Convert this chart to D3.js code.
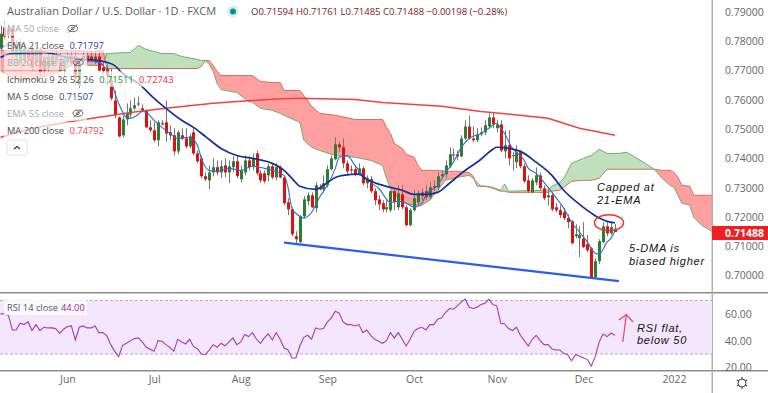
<!DOCTYPE html>
<html>
<head>
<meta charset="utf-8">
<script src="https://cdnjs.cloudflare.com/ajax/libs/d3/7.8.5/d3.min.js"></script>
<style>
  html, body { margin: 0; padding: 0; background: #fff; }
  svg { display: block; font-family: "Open Sans", sans-serif; }
</style>
</head>
<body>
<svg id="chart" width="768" height="393"></svg>
<script>
// daily candles, bar number = trading day counted from early May 2021
const opens = [.7775,.7847,.7820,.7844,.7748,.7724,.7741,.7769,.7775,.7728,.7769,.7741,.7707,.7751,.7728,.7734,.7700,.7728,.7751,.7751,.7649,.7751,.7751,.7748,.7728,.7748,.7711,.7707,.7666,.7598,.7540,.7479,.7533,.7550,.7571,.7584,.7571,.7564,.7506,.7496,.7462,.7520,.7523,.7489,.7479,.7424,.7479,.7468,.7441,.7489,.7417,.7400,.7339,.7325,.7352,.7370,.7352,.7376,.7352,.7370,.7390,.7329,.7352,.7393,.7373,.7417,.7349,.7349,.7342,.7373,.7335,.7370,.7335,.7250,.7226,.7134,.7114,.7202,.7254,.7274,.7230,.7301,.7294,.7308,.7363,.7397,.7448,.7438,.7383,.7363,.7363,.7349,.7366,.7315,.7329,.7288,.7260,.7247,.7226,.7223,.7288,.7233,.7277,.7233,.7172,.7223,.7250,.7271,.7288,.7267,.7305,.7301,.7339,.7346,.7373,.7410,.7414,.7407,.7468,.7509,.7468,.7462,.7482,.7489,.7509,.7540,.7503,.7516,.7424,.7445,.7408,.7387,.7421,.7373,.7325,.7284,.7318,.7342,.7298,.7267,.7274,.7233,.7223,.7216,.7196,.7185,.7134,.7127,.7127,.7107,.7093,.6994,.7049,.7114,.7168,.7144,.71594];
const closes = [.7826,.7816,.7844,.7762,.7786,.7792,.7775,.7741,.7711,.7769,.7694,.7700,.7748,.7721,.7751,.7700,.7734,.7745,.7724,.7673,.7724,.7734,.7731,.7734,.7748,.7700,.7697,.7683,.7605,.7547,.7475,.7533,.7554,.7571,.7581,.7588,.7564,.7506,.7496,.7462,.7523,.7516,.7485,.7479,.7424,.7489,.7468,.7441,.7475,.7417,.7390,.7339,.7329,.7352,.7370,.7352,.7373,.7352,.7373,.7390,.7339,.7359,.7393,.7370,.7400,.7349,.7325,.7322,.7373,.7335,.7370,.7335,.7247,.7226,.7141,.7124,.7202,.7260,.7274,.7233,.7308,.7294,.7315,.7363,.7400,.7448,.7438,.7383,.7356,.7359,.7346,.7366,.7315,.7332,.7288,.7257,.7243,.7226,.7233,.7288,.7250,.7281,.7233,.7172,.7223,.7264,.7281,.7284,.7267,.7301,.7301,.7339,.7346,.7376,.7414,.7414,.7407,.7468,.7509,.7468,.7462,.7482,.7489,.7513,.7540,.7516,.7516,.7427,.7445,.7400,.7411,.7421,.7373,.7322,.7288,.7325,.7342,.7298,.7264,.7274,.7226,.7223,.7206,.7196,.7182,.7110,.7141,.7138,.7097,.7086,.6994,.7049,.7117,.7168,.7144,.7165,.71488];
const highs = [.7854,.7871,.7857,.7850,.7803,.7809,.7789,.7782,.7786,.7782,.7779,.7751,.7762,.7769,.7769,.7762,.7751,.7769,.7769,.7769,.7734,.7769,.7769,.7762,.7769,.7769,.7728,.7721,.7707,.7632,.7543,.7547,.7588,.7598,.7608,.7612,.7584,.7567,.7530,.7523,.7530,.7530,.7598,.7513,.7503,.7496,.7503,.7503,.7485,.7503,.7427,.7410,.7352,.7376,.7400,.7393,.7393,.7400,.7393,.7407,.7410,.7376,.7410,.7407,.7417,.7427,.7359,.7359,.7383,.7383,.7383,.7376,.7339,.7264,.7233,.7151,.7206,.7271,.7284,.7284,.7318,.7312,.7342,.7376,.7410,.7472,.7458,.7468,.7393,.7376,.7376,.7383,.7373,.7342,.7339,.7298,.7274,.7257,.7257,.7291,.7298,.7308,.7308,.7240,.7230,.7291,.7291,.7298,.7308,.7318,.7325,.7352,.7359,.7393,.7438,.7434,.7427,.7479,.7530,.7547,.7509,.7503,.7506,.7530,.7554,.7554,.7530,.7530,.7496,.7496,.7421,.7445,.7427,.7383,.7342,.7332,.7369,.7352,.7308,.7298,.7284,.7247,.7240,.7230,.7209,.7189,.7175,.7168,.7182,.7138,.7097,.7059,.7124,.7182,.7182,.7182,.71761];
const lows = [.7769,.7803,.7809,.7741,.7734,.7707,.7728,.7728,.7700,.7714,.7680,.7687,.7694,.7707,.7717,.7694,.7683,.7714,.7717,.7649,.7639,.7728,.7724,.7728,.7721,.7694,.7687,.7649,.7598,.7537,.7472,.7472,.7513,.7537,.7564,.7578,.7560,.7503,.7489,.7455,.7441,.7513,.7458,.7462,.7410,.7414,.7462,.7434,.7434,.7410,.7383,.7332,.7322,.7294,.7339,.7342,.7332,.7335,.7315,.7352,.7332,.7318,.7342,.7359,.7359,.7342,.7318,.7315,.7322,.7329,.7325,.7332,.7240,.7206,.7134,.7110,.7110,.7196,.7240,.7230,.7216,.7291,.7284,.7301,.7359,.7393,.7421,.7366,.7342,.7349,.7339,.7342,.7308,.7298,.7281,.7240,.7223,.7216,.7216,.7216,.7223,.7223,.7226,.7168,.7168,.7219,.7240,.7257,.7257,.7260,.7288,.7291,.7332,.7332,.7366,.7393,.7393,.7404,.7462,.7465,.7455,.7455,.7475,.7479,.7503,.7503,.7489,.7421,.7400,.7376,.7359,.7366,.7366,.7315,.7281,.7281,.7308,.7291,.7257,.7240,.7219,.7216,.7196,.7189,.7161,.7107,.7127,.7063,.7093,.7080,.6994,.6991,.7039,.7110,.7134,.7138,.71485];

const ma200Bars = [0,8,20,33,42,54,61,70,76,90,97,112,122,130,139,147,156];
const ma200 = [.7472,.7503,.7530,.7557,.7571,.7588,.7595,.7603,.7605,.7601,.7591,.7578,.7560,.7550,.7537,.7503,.7479];
const ema21Bars = [0,3,11,17,22,25,27,29,31,35,39,42,46,49,52,56,60,64,69,72,74,76,80,82,85,87,91,93,96,99,102,105,108,111,114,117,122,125,126,129,132,136,140,143,147,150,152,154,156];
const ema21 = [.7745,.7758,.7762,.7745,.7738,.7734,.7728,.7717,.7690,.7656,.7605,.7571,.7530,.7506,.7475,.7434,.7410,.7400,.7383,.7359,.7332,.7305,.7294,.7308,.7335,.7342,.7346,.7329,.7312,.7301,.7291,.7277,.7277,.7284,.7315,.7349,.7397,.7431,.7438,.7434,.7424,.7387,.7342,.7291,.7243,.7213,.7196,.7185,.7180];
const ma5Bars = [0,2,4,6,9,12,15,18,22,25,27,28,29,30,32,33,35,36,37,39,41,43,45,48,50,51,53,55,58,61,64,67,69,72,73,74,76,77,79,81,83,85,86,88,90,92,94,96,99,101,103,105,107,108,111,113,115,117,119,122,124,126,127,128,130,131,133,134,136,138,140,143,145,147,149,151,152,154,155,156];
const ma5 = [.7775,.7789,.7775,.7762,.7751,.7741,.7738,.7741,.7734,.7728,.7700,.7673,.7625,.7588,.7540,.7537,.7550,.7560,.7557,.7530,.7506,.7485,.7468,.7472,.7444,.7400,.7359,.7356,.7366,.7359,.7373,.7366,.7359,.7342,.7301,.7230,.7202,.7196,.7216,.7267,.7308,.7366,.7404,.7410,.7376,.7342,.7318,.7298,.7250,.7254,.7247,.7233,.7247,.7274,.7308,.7352,.7387,.7438,.7468,.7485,.7503,.7520,.7503,.7485,.7434,.7421,.7393,.7366,.7349,.7318,.7284,.7230,.7182,.7148,.7114,.7076,.7073,.7114,.7127,.7151];

// ichimoku cloud, runs 26 bars past the last candle
const cloudBars = [0,2,5,10,15,19,23,26,27,33,35,37,41,44,46,50,51,52,53,54,55,56,60,63,64,66,69,71,72,76,77,79,81,85,90,94,97,98,99,100,102,103,105,106,107,109,111,113,116,119,120,121,122,123,125,127,128,129,139,140,142,143,145,148,150,152,154,157,159,162,166,168,170,171,172,173,175,176,178,180,181];
const spanA = [.7700,.7683,.7666,.7673,.7697,.7724,.7717,.7717,.7758,.7762,.7786,.7772,.7758,.7758,.7748,.7738,.7734,.7734,.7721,.7697,.7656,.7635,.7625,.7595,.7591,.7571,.7564,.7554,.7547,.7523,.7462,.7438,.7427,.7410,.7404,.7393,.7376,.7332,.7298,.7274,.7257,.7247,.7240,.7240,.7240,.7257,.7291,.7325,.7335,.7342,.7332,.7318,.7305,.7305,.7301,.7291,.7312,.7288,.7291,.7305,.7318,.7332,.7383,.7400,.7410,.7431,.7417,.7417,.7421,.7397,.7363,.7332,.7308,.7301,.7274,.7247,.7240,.7199,.7172,.7155,.7148];
const spanB = [.7769,.7769,.7769,.7769,.7769,.7769,.7765,.7769,.7707,.7707,.7707,.7707,.7707,.7707,.7707,.7707,.7714,.7734,.7734,.7717,.7697,.7683,.7683,.7683,.7683,.7663,.7659,.7659,.7632,.7632,.7615,.7578,.7554,.7547,.7533,.7533,.7533,.7506,.7485,.7451,.7434,.7414,.7404,.7376,.7359,.7359,.7359,.7356,.7356,.7352,.7339,.7305,.7305,.7305,.7298,.7288,.7288,.7284,.7284,.7288,.7291,.7301,.7322,.7325,.7325,.7332,.7363,.7363,.7363,.7363,.7363,.7359,.7359,.7352,.7335,.7308,.7305,.7274,.7274,.7274,.7274];

// rsi 14, one value per bar
const rsi = [60,60,59,48,48,53,52,54,47.5,52,47.5,50,49.5,49.5,49,45.5,48.5,50.5,51,40.5,50,51,49.5,49.5,51,46,46,43.5,37,32,28,36.5,38,40,41.5,42,39,35,33.5,32,40,39.5,37,35,32,41,39,37.5,41,35.5,34,30,29.5,33,37,35,38,36,39,42,37,39,44.5,43,46,41,38,42,45,40.5,46,41,34.5,33,27,27,36,42.5,44,41,49.5,48.5,49,54,57,62,60.5,54,52,52,51,52,46,48,44,41,39.5,38,40,46,42,46,41,36,41,47,49,50,48,52,52,56,57,61,64,63.5,66,69,71,65,64,65,67,68,71,67,66,53,52.5,49,47.5,50,44,40,36,41,44,40,37,37,34,33,33,30.5,29.5,25,29.5,28.5,27,26,21,28,39,45,43,45.5,44];

const priceTicks = [.79,.78,.77,.76,.75,.74,.73,.72,.71,.70];
const rsiTicks = [60,40,20];
const monthBars = [17,39,61,83,105,126,148,171];
const monthLabels = ["Jun","Jul","Aug","Sep","Oct","Nov","Dec","2022"];
const channelBars = [72,157];
const channelLine = [.7112,.6981];
const legendRows = [
  {name: "MA 50 close", eye: true},
  {name: "EMA 21 close", vals: [["0.71797", "#1c3fa0"]]},
  {name: "BB 20 close 2", eye: true},
  {name: "Ichimoku 9 26 52 26", vals: [["0.71511", "#2a8a2a"], ["0.72743", "#ef2b2b"]]},
  {name: "MA 5 close", vals: [["0.71507", "#1c3fa0"]]},
  {name: "EMA 55 close", eye: true},
  {name: "MA 200 close", vals: [["0.74792", "#f04040"]]}
];

const W = 768, axisX = 712, pricePaneBottom = 293, rsiPaneBottom = 371;
const svg = d3.select("#chart");

const x = d3.scaleLinear().domain([0, 171]).range([0.5, 674]);
const y = d3.scaleLinear().domain([.70, .79]).range([275.5, 12]);
const yRsi = d3.scaleLinear().domain([30, 70]).range([354, 300.5]);

svg.append("defs").append("clipPath").attr("id", "pane").
  append("rect").attr("width", axisX).attr("height", pricePaneBottom);

const main = svg.append("g").attr("clip-path", "url(#pane)");

// cloud: fill each side where its span is on top
const cloud = cloudBars.map((b, i) => ({b: b, a: spanA[i], s: spanB[i]}));
const area = (lo) => d3.area().x(d => x(d.b)).y0(d => y(lo(d))).y1(d => y(Math.max(d.a, d.s)));
main.append("path").attr("d", area(d => d.a)(cloud)).attr("fill", "#ff9f9f");
main.append("path").attr("d", area(d => d.s)(cloud)).attr("fill", "#bfdfbd");
const indexLine = (bars, vals) => d3.line().x((d, i) => x(bars[i])).y(d => y(d))(vals);
main.append("path").attr("d", indexLine(cloudBars, spanA)).attr("fill", "none").attr("stroke", "#6fae70").attr("stroke-width", 1);
main.append("path").attr("d", indexLine(cloudBars, spanB)).attr("fill", "none").attr("stroke", "#d0705f").attr("stroke-width", 1);

// candles
const candles = opens.map((o, i) => ({i: i, o: o, c: closes[i], h: highs[i], l: lows[i]}));
const candle = main.append("g").selectAll("g").data(candles).join("g");
candle.append("line").
  attr("x1", d => Math.round(x(d.i)) + 0.5).attr("x2", d => Math.round(x(d.i)) + 0.5).
  attr("y1", d => y(d.h)).attr("y2", d => y(d.l)).
  attr("stroke", "#777").attr("stroke-width", 1);
candle.append("rect").
  attr("x", d => Math.round(x(d.i)) - 1).attr("width", 3).
  attr("y", d => y(Math.max(d.o, d.c))).
  attr("height", d => Math.max(1, Math.abs(y(d.o) - y(d.c)))).
  attr("fill", d => d.c >= d.o ? "#2f7d32" : "#e01010");

// moving averages
main.append("path").attr("d", indexLine(ma200Bars, ma200)).attr("fill", "none").attr("stroke", "#f44040").attr("stroke-width", 1.5);
main.append("path").attr("d", d3.line().x((d, i) => x(ma5Bars[i])).y(d => y(d)).curve(d3.curveMonotoneX)(ma5)).attr("fill", "none").attr("stroke", "#2f6fc8").attr("stroke-width", 1.1);
main.append("path").attr("d", d3.line().x((d, i) => x(ema21Bars[i])).y(d => y(d)).curve(d3.curveMonotoneX)(ema21)).attr("fill", "none").attr("stroke", "#12309c").attr("stroke-width", 1.7);

// drawn channel line
main.append("line").
  attr("x1", x(channelBars[0])).attr("x2", x(channelBars[1])).
  attr("y1", y(channelLine[0])).attr("y2", y(channelLine[1])).
  attr("stroke", "#2b5cf0").attr("stroke-width", 2.2);

// circle round the last candles, hand annotation
main.append("ellipse").attr("cx", x(154.5)).attr("cy", y(.7180)).attr("rx", 14.5).attr("ry", 8).
  attr("fill", "none").attr("stroke", "#ef2f2f").attr("stroke-width", 1.5);

// panes frame
const frame = "#8c8c8c";
svg.append("rect").attr("y", pricePaneBottom - 1).attr("width", W).attr("height", 1.5).attr("fill", frame);
svg.append("rect").attr("y", rsiPaneBottom - 1).attr("width", W).attr("height", 1.5).attr("fill", frame);
svg.append("rect").attr("x", axisX - 0.5).attr("width", 1.5).attr("height", 393).attr("fill", "#b0b0b0");

// rsi pane
const rsiG = svg.append("g");
rsiG.append("rect").attr("x", 0).attr("width", axisX).attr("y", yRsi(70)).attr("height", yRsi(30) - yRsi(70)).attr("fill", "#f4e6fc");
[70, 30].forEach(v => {
  rsiG.append("line").attr("x1", 0).attr("x2", axisX).attr("y1", yRsi(v)).attr("y2", yRsi(v)).
    attr("stroke", "#b9a6c4").attr("stroke-width", 1).attr("stroke-dasharray", "3 2");
});
rsiG.append("path").
  attr("d", d3.line().x((d, i) => x(i)).y(d => yRsi(d))(rsi)).
  attr("fill", "none").attr("stroke", "#a33cb8").attr("stroke-width", 1.1);
const rsiLegend = rsiG.append("g");
rsiLegend.append("rect").attr("x", 4).attr("y", 300).attr("width", 83).attr("height", 15).attr("fill", "#fff").attr("opacity", .75);
rsiLegend.append("text").attr("x", 7).attr("y", 310.5).attr("font-size", 9.3).attr("fill", "#555").text("RSI 14 close");
rsiLegend.append("text").attr("x", 61).attr("y", 310.5).attr("font-size", 9.3).attr("fill", "#8e24aa").text("44.00");

// axes
const priceAxis = d3.axisRight(y).tickValues(priceTicks).tickSize(0).tickPadding(0).tickFormat(d3.format(".5f"));
const rsiAxis = d3.axisRight(yRsi).tickValues(rsiTicks).tickSize(0).tickPadding(0).tickFormat(d3.format(".2f"));
const timeAxis = d3.axisBottom(x).tickValues(monthBars).tickSize(0).tickPadding(0).tickFormat((d, i) => monthLabels[i]);

const styleAxis = (g) => {
  g.select(".domain").remove();
  g.selectAll("text").attr("fill", "#666").attr("font-size", 10.5).attr("font-family", '"Open Sans", sans-serif');
};
svg.append("g").attr("transform", "translate(725,0)").call(priceAxis).call(styleAxis);
svg.append("g").attr("transform", "translate(725,0)").call(rsiAxis).call(styleAxis);
svg.append("g").attr("transform", "translate(0,376)").call(timeAxis).call(styleAxis);

// price label on the axis
svg.append("rect").attr("x", axisX).attr("y", 226).attr("width", 56).attr("height", 14).attr("fill", "#ef1f1f");
svg.append("text").attr("x", 725).attr("y", 236.7).attr("font-size", 10.5).attr("font-weight", 700).attr("fill", "#fff").text("0.71488");

// settings gear
const gear = svg.append("g").attr("transform", "translate(742,383)");
gear.append("circle").attr("r", 4).attr("fill", "none").attr("stroke", "#444").attr("stroke-width", 1);
d3.range(0, 360, 60).forEach(a => {
  gear.append("line").attr("x1", 0).attr("x2", 0).attr("y1", -4).attr("y2", -6).
    attr("transform", "rotate(" + a + ")").attr("stroke", "#444").attr("stroke-width", 1.2);
});

// header
const head = svg.append("g");
head.append("text").attr("x", 7).attr("y", 15).attr("font-size", 11).attr("fill", "#5a5a5a").
  text("Australian Dollar / U.S. Dollar · 1D · FXCM");
head.append("circle").attr("cx", 233).attr("cy", 11.5).attr("r", 6).attr("fill", "#d5efec");
head.append("circle").attr("cx", 233).attr("cy", 11.5).attr("r", 3).attr("fill", "#0a9484");
head.append("text").attr("x", 251).attr("y", 15).attr("font-size", 9.5).attr("fill", "#7a2020").
  text("O0.71594 H0.71761 L0.71485 C0.71488 −0.00198 (−0.28%)");

// legend rows over the chart, each on a see-through white strip
const legend = svg.append("g");
legendRows.forEach((r, i) => {
  const ty = 32 + i * 16.95;
  const faded = !!r.eye;
  const row = legend.append("g");
  const back = row.append("rect").attr("x", 4).attr("y", ty - 11.5).attr("height", 15.5).attr("fill", "#fff").attr("opacity", .68);
  const name = row.append("text").attr("x", 7).attr("y", ty).attr("font-size", 9.3).
    attr("fill", faded ? "#a8a8a8" : "#4a4a4a").text(r.name);
  let px = 7 + name.node().getComputedTextLength();
  (r.vals || []).forEach(v => {
    const t = row.append("text").attr("x", px + 5.5).attr("y", ty).attr("font-size", 9.3).attr("fill", v[1]).text(v[0]);
    px += t.node().getComputedTextLength() + 5.5;
  });
  if (r.eye) {
    const eye = row.append("g").attr("transform", "translate(" + (px + 14) + "," + (ty - 3.5) + ")");
    eye.append("ellipse").attr("rx", 5).attr("ry", 3.2).attr("fill", "none").attr("stroke", "#555").attr("stroke-width", .9);
    eye.append("circle").attr("r", 1.4).attr("fill", "none").attr("stroke", "#555").attr("stroke-width", .8);
    eye.append("line").attr("x1", -4.5).attr("y1", 4).attr("x2", 4.5).attr("y2", -4).attr("stroke", "#555").attr("stroke-width", .9);
    px += 20;
  }
  back.attr("width", px + 3 - 4);
});

// collapse button
const btn = svg.append("g").attr("transform", "translate(7,140)");
btn.append("rect").attr("width", 20).attr("height", 15).attr("rx", 2).attr("fill", "#fff").attr("stroke", "#e2e2e2");
btn.append("path").attr("d", d3.line()([[7, 9], [10, 6.5], [13, 9]])).attr("fill", "none").attr("stroke", "#333").attr("stroke-width", 1.1);

// notes, line gap opened a little so the two lines do not touch
const notes = [
  {lines: ["Capped at", "21-EMA"], x: 597, y: 191},
  {lines: ["5-DMA is", "biased higher"], x: 629, y: 252},
  {lines: ["RSI flat,", "below 50"], x: 637, y: 331.5}
];
const note = svg.append("g").selectAll("text").data(notes).join("text").
  attr("x", d => d.x).attr("y", d => d.y).
  attr("font-family", '"Liberation Sans", sans-serif').
  attr("font-size", 11).attr("font-style", "italic").attr("fill", "#111").attr("letter-spacing", .75);
note.selectAll("tspan").data(d => d.lines.map((t, i) => ({t: t, i: i, x: d.x}))).join("tspan").
  attr("x", d => d.x).attr("dy", d => d.i ? 12.8 : 0).text(d => d.t);

// arrow in the rsi pane
const arrow = svg.append("g").attr("fill", "none").attr("stroke", "#f0405a").attr("stroke-width", 1.2);
arrow.append("line").attr("x1", x(158)).attr("y1", 342).attr("x2", x(158.9)).attr("y2", 314.5);
arrow.append("path").attr("d", d3.line()([[x(157), 320], [x(158.9), 314.5], [x(160.6), 322]]));
</script>
</body>
</html>
